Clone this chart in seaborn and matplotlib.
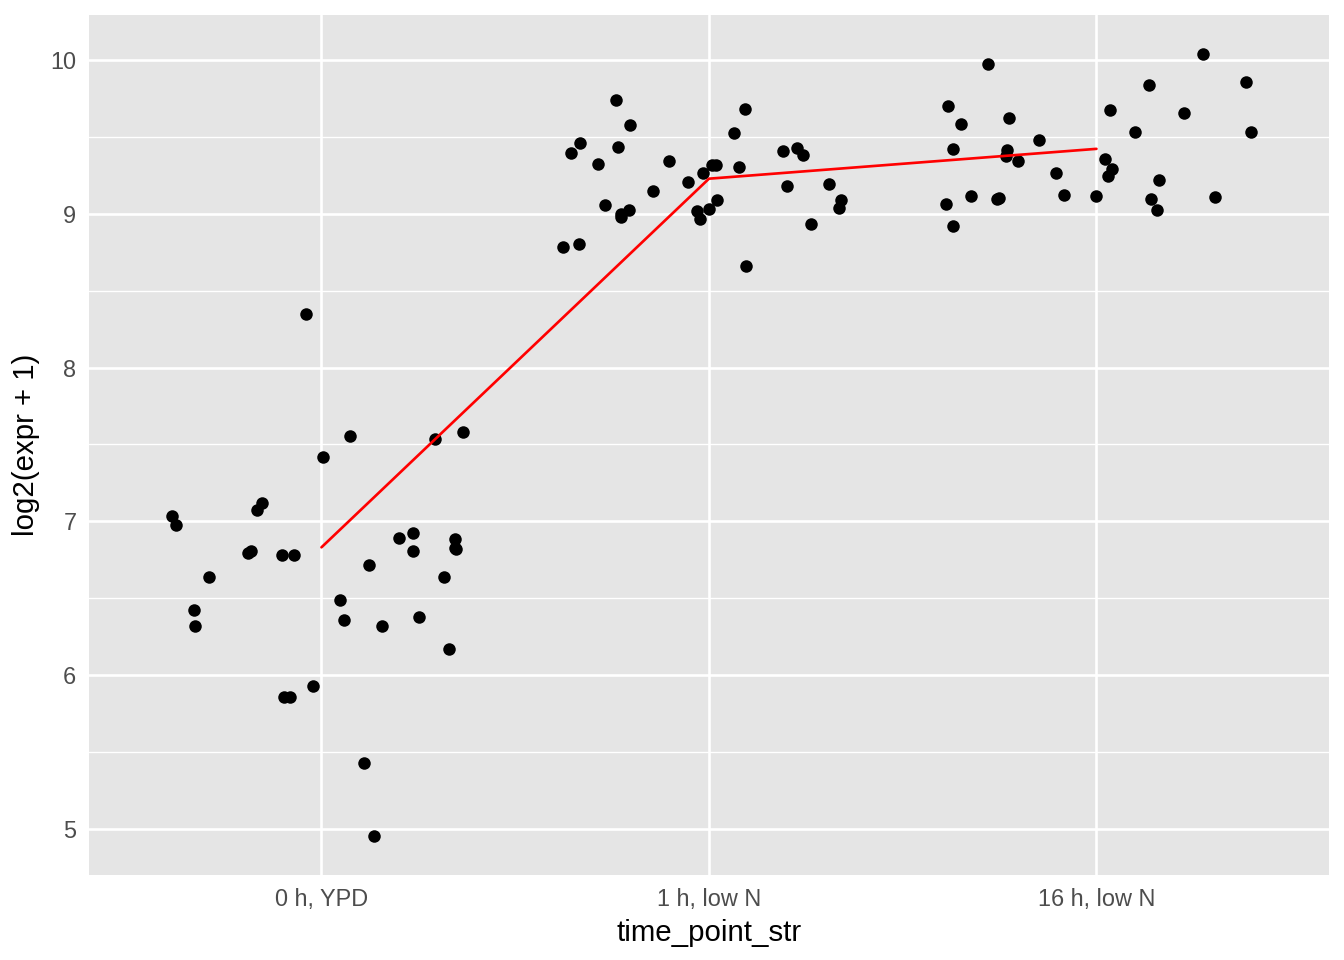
import numpy as np
import pandas as pd
import matplotlib
matplotlib.use("Agg")
import matplotlib.pyplot as plt
import seaborn as sns

# categories
time_points = ["0 h, YPD", "1 h, low N", "16 h, low N"]

# values (log2(expr + 1)), with the horizontal jitter of each point
ypd_vals = [8.347, 7.558, 7.421, 7.537, 7.581, 7.116, 7.074, 7.032, 6.975, 6.796,
            6.806, 6.778, 6.778, 6.894, 6.926, 6.806, 6.882, 6.829, 6.822, 6.713,
            6.641, 6.641, 6.491, 6.424, 6.319, 6.356, 6.319, 6.375, 6.171, 5.931,
            5.856, 5.856, 5.426, 4.956]
ypd_jit = [-0.041, 0.073, 0.003, 0.292, 0.365, -0.153, -0.167, -0.387, -0.375, -0.189,
           -0.182, -0.102, -0.070, 0.200, 0.237, 0.237, 0.344, 0.344, 0.348, 0.122,
           -0.289, 0.316, 0.047, -0.329, -0.327, 0.057, 0.156, 0.252, 0.329, -0.022,
           -0.097, -0.082, 0.110, 0.135]

lowN1_vals = [9.737, 9.574, 9.459, 9.398, 9.435, 9.326, 9.346, 9.678, 9.522, 9.411,
              9.428, 9.383, 9.320, 9.320, 9.267, 9.304, 9.209, 9.146, 9.183, 9.193,
              9.054, 9.000, 8.976, 9.022, 9.087, 9.033, 9.015, 8.963, 9.089, 9.039,
              8.935, 8.783, 8.802, 8.659]
lowN1_jit = [-0.239, -0.204, -0.333, -0.357, -0.236, -0.286, -0.103, 0.093, 0.065, 0.190,
             0.226, 0.243, 0.008, 0.017, -0.016, 0.077, -0.053, -0.144, 0.202, 0.310,
             -0.267, -0.227, -0.227, -0.206, 0.022, 0.000, -0.032, -0.023, 0.340, 0.336,
             0.264, -0.376, -0.335, 0.096]

lowN16_vals = [9.974, 9.699, 9.582, 9.621, 9.424, 9.416, 9.374, 9.342, 9.478, 9.266,
               9.065, 9.113, 9.095, 9.100, 9.123, 9.115, 8.920, 9.359, 9.288, 9.245,
               9.677, 9.532, 9.835, 9.654, 10.039, 9.855, 9.532, 9.219, 9.095, 9.026,
               9.110]
lowN16_jit = [-0.280, -0.383, -0.349, -0.225, -0.369, -0.232, -0.233, -0.202, -0.148, -0.105,
              -0.389, -0.323, -0.257, -0.252, -0.084, 0.000, -0.371, 0.022, 0.040, 0.030,
              0.035, 0.099, 0.135, 0.225, 0.275, 0.386, 0.399, 0.162, 0.142, 0.157,
              0.306]

# summary line (red)
line_vals = [6.831, 9.228, 9.422]

groups = [(ypd_vals, ypd_jit), (lowN1_vals, lowN1_jit), (lowN16_vals, lowN16_jit)]
rows = []
for i, (vals, jit) in enumerate(groups):
    for v, j in zip(vals, jit):
        rows.append({"time_point_str": time_points[i], "pos": i + j, "expr": v})
df = pd.DataFrame(rows)
line_df = pd.DataFrame({"pos": range(len(time_points)), "expr": line_vals})

sns.set_theme(style="darkgrid")
plt.rcParams["font.family"] = ["Liberation Sans", "DejaVu Sans"]

fig = plt.figure(figsize=(7, 5), dpi=192)
ax = fig.add_axes([0.0662, 0.0885, 0.9226, 0.8955])
ax.set_facecolor("#E5E5E5")

sns.scatterplot(data=df, x="pos", y="expr", color="black", s=22, linewidth=0,
                ax=ax, zorder=3)
sns.lineplot(data=line_df, x="pos", y="expr", color="red", linewidth=1.0,
             ax=ax, zorder=4)

ax.set_xlim(-0.6, 2.6)
ax.set_ylim(4.70, 10.29)
ax.set_xticks(range(len(time_points)))
ax.set_xticklabels(time_points)
ax.set_yticks([5, 6, 7, 8, 9, 10])
ax.set_yticks(np.arange(5.5, 10.0, 1.0), minor=True)

ax.grid(which="major", color="white", linewidth=1.0)
ax.grid(which="minor", axis="y", color="white", linewidth=0.5)
ax.grid(which="minor", axis="x", visible=False)
ax.set_axisbelow(True)
for sp in ax.spines.values():
    sp.set_visible(False)

ax.tick_params(axis="both", which="major", length=2.75, width=0.5, color="#333333",
               labelsize=8.8, labelcolor="#4D4D4D", pad=2)
ax.tick_params(axis="both", which="minor", length=0)

ax.set_xlabel("time_point_str", fontsize=11, color="black", labelpad=3)
ax.set_ylabel("log2(expr + 1)", fontsize=11, color="black", labelpad=4)

fig.savefig("out.png", dpi=192)
